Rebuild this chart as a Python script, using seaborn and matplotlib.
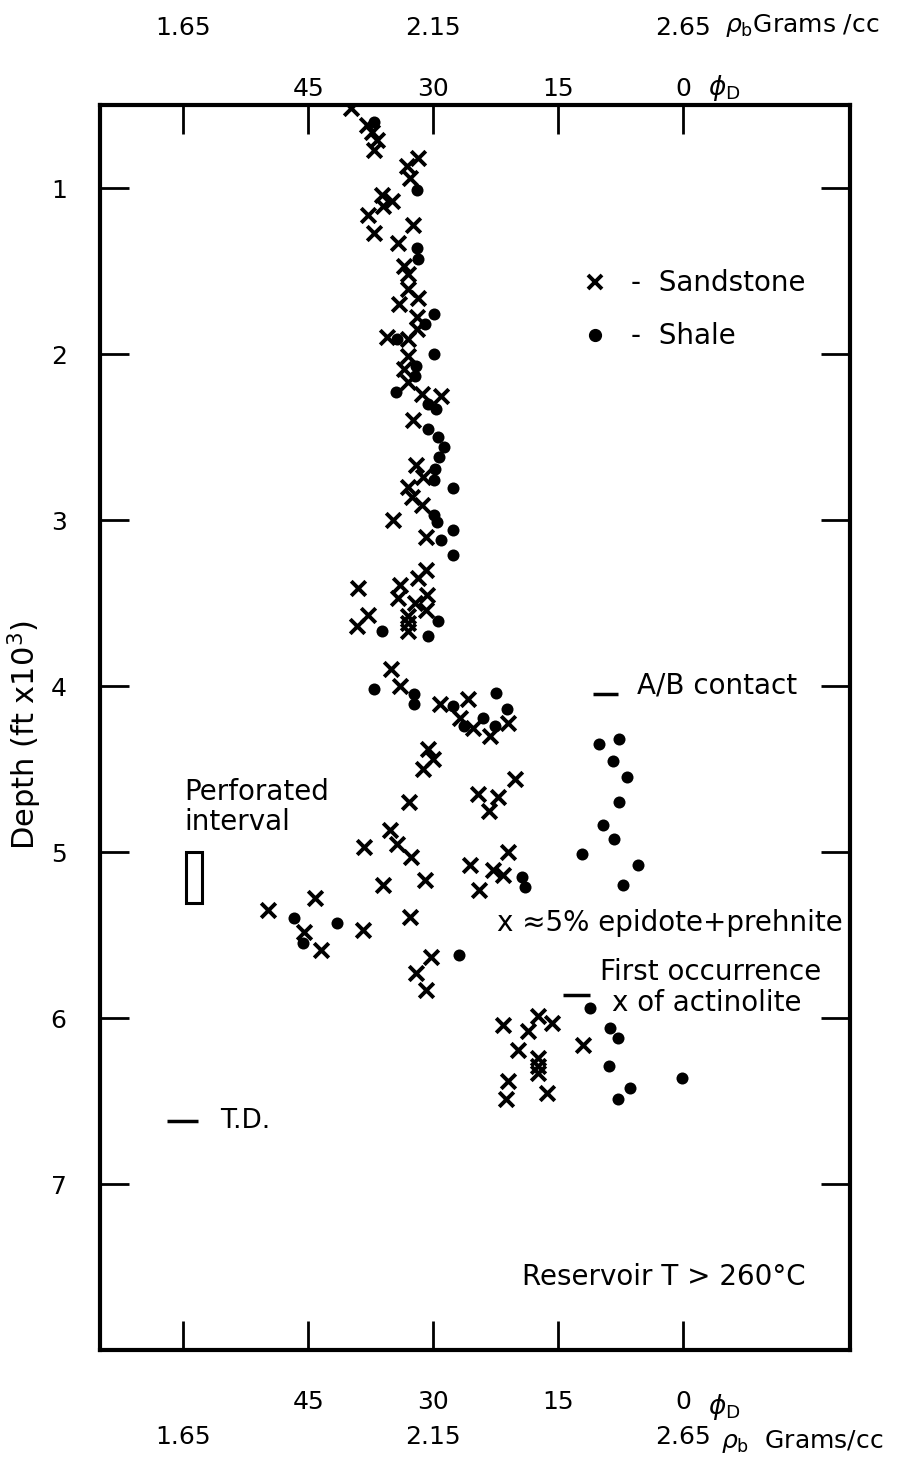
import pandas as pd
import matplotlib.pyplot as plt
import seaborn as sns
from matplotlib.lines import Line2D
from matplotlib.patches import Rectangle
import matplotlib.transforms as mtransforms

# Density porosity (phi_D, %) and depth (ft x 10^3)
sandstone_phi = [39.9, 38.0, 37.4, 36.8, 37.1, 31.9, 33.2, 32.8, 36.2, 35.0,
                 36.0, 37.8, 37.1, 32.4, 34.2, 33.5, 33.0, 33.0, 31.9, 34.1,
                 32.0, 32.0, 35.6, 33.1, 33.1, 33.5, 33.0, 31.4, 29.1, 32.5,
                 32.1, 31.3, 33.1, 32.6, 31.4, 34.8, 30.9, 30.9, 31.8, 39.0,
                 34.0, 34.2, 30.8, 32.2, 30.9, 37.9, 39.2, 33.1, 33.1, 33.0,
                 35.1, 34.0, 29.2, 25.9, 26.8, 25.2, 23.2, 21.1, 30.7, 30.0,
                 31.2, 20.2, 24.6, 22.2, 23.3, 32.9, 35.2, 34.4, 32.7, 38.3,
                 21.1, 25.6, 22.9, 21.6, 24.5, 36.0, 31.0, 44.2, 49.8, 45.5,
                 43.5, 38.5, 32.8, 30.3, 32.1, 30.9, 21.6, 18.6, 17.4, 15.8,
                 19.8, 17.4, 17.4, 17.4, 21.0, 21.3, 16.4, 12.1]
sandstone_depth = [0.52, 0.62, 0.66, 0.71, 0.77, 0.82, 0.87, 0.94, 1.04, 1.08,
                   1.11, 1.16, 1.27, 1.22, 1.33, 1.47, 1.52, 1.61, 1.66, 1.70,
                   1.78, 1.85, 1.90, 1.91, 2.01, 2.09, 2.17, 2.24, 2.25, 2.40,
                   2.67, 2.74, 2.80, 2.86, 2.91, 3.00, 3.10, 3.30, 3.35, 3.41,
                   3.39, 3.47, 3.45, 3.50, 3.54, 3.57, 3.64, 3.58, 3.62, 3.67,
                   3.90, 4.00, 4.11, 4.08, 4.19, 4.25, 4.30, 4.22, 4.38, 4.44,
                   4.50, 4.56, 4.65, 4.67, 4.75, 4.70, 4.87, 4.95, 5.03, 4.97,
                   5.00, 5.08, 5.11, 5.14, 5.23, 5.20, 5.17, 5.28, 5.35, 5.48,
                   5.59, 5.47, 5.39, 5.63, 5.73, 5.83, 6.04, 6.08, 5.99, 6.03,
                   6.19, 6.24, 6.29, 6.33, 6.38, 6.49, 6.45, 6.16]

shale_phi = [37.1, 32.0, 32.0, 31.9, 29.9, 31.0, 34.4, 29.9, 32.1, 32.2,
             34.5, 30.7, 29.7, 30.6, 29.5, 28.7, 29.3, 29.8, 29.9, 27.7,
             29.9, 29.6, 27.7, 29.1, 27.6, 29.5, 36.2, 30.6, 37.1, 32.3,
             32.3, 27.6, 26.3, 24.0, 22.5, 21.2, 22.6, 10.1, 7.7, 8.5,
             6.8, 7.7, 9.7, 8.3, 12.2, 5.5, 7.2, 19.4, 19.0, 46.7,
             45.7, 41.6, 26.9, 11.2, 8.8, 7.9, 8.9, 6.4, 7.9, 0.2]
shale_depth = [0.60, 1.01, 1.36, 1.43, 1.76, 1.82, 1.91, 2.00, 2.07, 2.13,
               2.23, 2.30, 2.33, 2.45, 2.50, 2.56, 2.62, 2.69, 2.76, 2.81,
               2.97, 3.01, 3.06, 3.12, 3.21, 3.61, 3.67, 3.70, 4.02, 4.05,
               4.11, 4.12, 4.24, 4.19, 4.04, 4.14, 4.24, 4.35, 4.32, 4.45,
               4.55, 4.70, 4.84, 4.92, 5.01, 5.08, 5.20, 5.15, 5.21, 5.40,
               5.55, 5.43, 5.62, 5.94, 6.06, 6.12, 6.29, 6.42, 6.49, 6.36]

phi_ticks = [60, 45, 30, 15, 0]
phi_tick_labels = ['', '45', '30', '15', '0']
rho_ticks = [1.65, 2.15, 2.65]
rho_tick_labels = ['1.65', '2.15', '2.65']
depth_ticks = [1, 2, 3, 4, 5, 6, 7]

# Annotated depths (ft x 10^3)
AB_CONTACT = 4.05
ACTINOLITE = 5.86
TOTAL_DEPTH = 6.62
PERF_TOP, PERF_BOTTOM = 5.0, 5.31


def phi_to_rho(phi):
    return 2.65 - phi / 60.0


def rho_to_phi(rho):
    return (2.65 - rho) * 60.0


sns.set_style('white')
plt.rcParams['font.family'] = ['DejaVu Sans']
plt.rcParams['mathtext.fontset'] = 'dejavusans'
for key in ['text.color', 'axes.labelcolor', 'xtick.color', 'ytick.color']:
    plt.rcParams[key] = 'black'

df = pd.concat([
    pd.DataFrame({'phi': sandstone_phi, 'depth': sandstone_depth, 'lithology': 'Sandstone'}),
    pd.DataFrame({'phi': shale_phi, 'depth': shale_depth, 'lithology': 'Shale'}),
])

fig = plt.figure(figsize=(8.97, 14.68), dpi=100)
ax = fig.add_axes([100 / 897, 1 - 1350 / 1468, 750 / 897, 1245 / 1468])

sns.scatterplot(data=df[df['lithology'] == 'Sandstone'], x='phi', y='depth',
                marker='x', s=110, color='black', linewidth=2.8, ax=ax, legend=False)
sns.scatterplot(data=df[df['lithology'] == 'Shale'], x='phi', y='depth',
                marker='o', s=75, color='black', edgecolor='black', linewidth=0, ax=ax, legend=False)

ax.set_xlim(70, -20)
ax.set_ylim(8.0, 0.5)

for side in ['left', 'right', 'top', 'bottom']:
    ax.spines[side].set_visible(True)
    ax.spines[side].set_linewidth(3)
    ax.spines[side].set_color('black')

# porosity ticks (top and bottom)
ax.set_xticks(phi_ticks)
ax.set_xticklabels(phi_tick_labels)
ax.tick_params(axis='x', which='major', direction='in', length=21, width=2,
               top=True, bottom=True, labeltop=False, labelbottom=True,
               labelsize=18, pad=29)
ax.set_yticks(depth_ticks)
ax.tick_params(axis='y', which='major', direction='in', length=21, width=2,
               left=True, right=True, labelsize=18, pad=24)
ax.set_xlabel('')
ax.set_ylabel('Depth (ft x10$^3$)', fontsize=22)
ax.yaxis.set_label_coords(-0.074, 0.494)

top_phi = ax.secondary_xaxis('top')
top_phi.set_xticks(phi_ticks)
top_phi.set_xticklabels(phi_tick_labels)
top_phi.tick_params(length=0, labelsize=18, pad=3)

top_rho = ax.secondary_xaxis('top', functions=(phi_to_rho, rho_to_phi))
top_rho.set_xticks(rho_ticks)
top_rho.set_xticklabels(rho_tick_labels)
top_rho.tick_params(length=0, labelsize=18, pad=47)

bot_rho = ax.secondary_xaxis('bottom', functions=(phi_to_rho, rho_to_phi))
bot_rho.set_xticks(rho_ticks)
bot_rho.set_xticklabels(rho_tick_labels)
bot_rho.tick_params(length=0, labelsize=18, pad=54)

for sec in [top_phi, top_rho, bot_rho]:
    for side in sec.spines:
        sec.spines[side].set_visible(False)

# axis unit texts next to the last tick labels
blend = mtransforms.blended_transform_factory(ax.transData, ax.transAxes)
ax.text(-3.0, 1.0137, r'$\phi_{\rm D}$', transform=blend, fontsize=19, ha='left', va='center')
ax.text(-3.0, -0.046, r'$\phi_{\rm D}$', transform=blend, fontsize=19, ha='left', va='center')
ax.text(-5.0, 1.064, r'$\rho_{\rm b}$Grams /cc', transform=blend, fontsize=18, ha='left', va='center')
ax.text(-4.5, -0.0735, r'$\rho_{\rm b}$  Grams/cc', transform=blend, fontsize=18, ha='left', va='center')

# legend for the two lithologies
handles = [Line2D([], [], marker='x', linestyle='none', color='black', markersize=10, markeredgewidth=2.8),
           Line2D([], [], marker='o', linestyle='none', color='black', markersize=8.5)]
ax.legend(handles, ['-  Sandstone', '-  Shale'], loc='upper left', bbox_to_anchor=(0.645, 0.868),
          frameon=False, fontsize=20, handlelength=0.8, handletextpad=0.9, labelspacing=0.9,
          borderpad=0, borderaxespad=0)

# annotations
ax.hlines(AB_CONTACT, 10.9, 7.9, color='black', linewidth=2.5)
ax.text(5.6, 4.0, 'A/B contact', fontsize=20, ha='left', va='center')

ax.add_patch(Rectangle((59.7, PERF_TOP), -1.9, PERF_BOTTOM - PERF_TOP,
                       fill=False, edgecolor='black', linewidth=2.2))
ax.text(59.9, 4.73, 'Perforated\ninterval', fontsize=20, ha='left', va='center', linespacing=1.1)

ax.text(22.4, 5.43, 'x \u22485% epidote+prehnite', fontsize=20, ha='left', va='center')
ax.hlines(ACTINOLITE, 14.4, 11.2, color='black', linewidth=2.5)
ax.text(10.0, 5.72, 'First occurrence', fontsize=20, ha='left', va='center')
ax.text(8.6, 5.91, 'x of actinolite', fontsize=20, ha='left', va='center')

ax.hlines(TOTAL_DEPTH, 62.0, 58.3, color='black', linewidth=2.5)
ax.text(55.6, TOTAL_DEPTH, 'T.D.', fontsize=19, ha='left', va='center')

ax.text(19.4, 7.56, 'Reservoir T > 260\u00b0C', fontsize=20, ha='left', va='center')

plt.savefig('out.png', dpi=100)
